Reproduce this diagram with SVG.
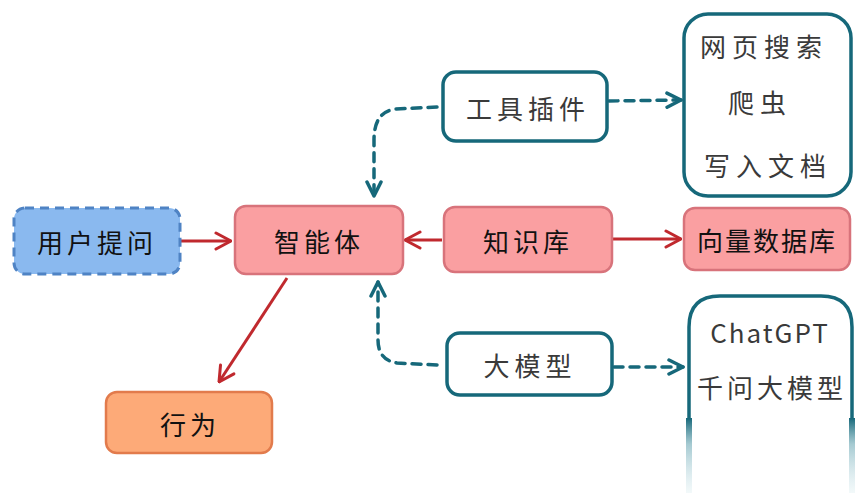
<svg xmlns="http://www.w3.org/2000/svg" width="867" height="493" viewBox="0 0 867 493">
<defs>
<style>
.t{font-family:"Noto Sans CJK SC","Noto Sans",sans-serif;font-size:26px;text-anchor:middle;dominant-baseline:central;}
.dk{fill:#111;}
.gr{fill:#3a3a3a;}
.teal{fill:#fff;stroke:#16687a;stroke-width:3.5;}
.red{fill:#fa9fa1;stroke:#d8737b;stroke-width:2.5;}
.ra{fill:none;stroke:#c0292e;stroke-width:3;}
.da{fill:none;stroke:#16687a;stroke-width:3.5;stroke-dasharray:9 7;stroke-linecap:round;}
</style>
<marker id="mr" viewBox="0 0 18 20" refX="17" refY="10" markerWidth="18" markerHeight="20" markerUnits="userSpaceOnUse" orient="auto">
<path d="M2,2 L17,10 L2,18" fill="none" stroke="#c0292e" stroke-width="3" stroke-linecap="round" stroke-linejoin="round"/>
</marker>
<marker id="mt" viewBox="0 0 18 18" refX="16" refY="9" markerWidth="18" markerHeight="18" markerUnits="userSpaceOnUse" orient="auto">
<path d="M2,2 L16,9 L2,16" fill="none" stroke="#16687a" stroke-width="3.5" stroke-linecap="round" stroke-linejoin="round"/>
</marker>
<linearGradient id="fade" x1="0" y1="418" x2="0" y2="493" gradientUnits="userSpaceOnUse">
<stop offset="0" stop-color="#16687a" stop-opacity="1"/>
<stop offset="0.35" stop-color="#7fb3be" stop-opacity="0.7"/>
<stop offset="1" stop-color="#d5eaee" stop-opacity="0.3"/>
</linearGradient>
</defs>
<rect width="867" height="493" fill="#fff"/>
<g id="connectors">
<line class="ra" x1="181" y1="241" x2="231" y2="241" marker-end="url(#mr)"/>
<line class="ra" x1="442" y1="240" x2="405" y2="240" marker-end="url(#mr)"/>
<line class="ra" x1="613" y1="239" x2="681" y2="239" marker-end="url(#mr)"/>
<line class="ra" x1="287" y1="278" x2="219" y2="382" marker-end="url(#mr)"/>
<path class="da" d="M437,107 L395,109 Q374,112 374,140 L374,196" marker-end="url(#mt)"/>
<path class="da" d="M437,365 L397,363 Q378,360 378,340 L378,282" marker-end="url(#mt)"/>
<line class="da" x1="609" y1="101" x2="681" y2="100" marker-end="url(#mt)"/>
<line class="da" x1="614" y1="367" x2="683" y2="367" marker-end="url(#mt)"/>
</g>
<g id="user">
<rect x="14" y="208" width="166" height="66" rx="11" fill="#8ab9ef" stroke="#4f83c4" stroke-width="3" stroke-dasharray="9 6"/>
<text class="t dk" x="97" y="241" letter-spacing="4">用户提问</text>
</g>
<g id="agent">
<rect class="red" x="235" y="206" width="168" height="68" rx="11"/>
<text class="t dk" x="319" y="240" letter-spacing="4">智能体</text>
</g>
<g id="knowledge">
<rect class="red" x="444" y="207" width="168" height="65" rx="11"/>
<text class="t dk" x="528" y="240" letter-spacing="4">知识库</text>
</g>
<g id="vectordb">
<rect class="red" x="684" y="208" width="166" height="62" rx="11"/>
<text class="t dk" x="767" y="239" letter-spacing="2">向量数据库</text>
</g>
<g id="behavior">
<rect x="106" y="392" width="166" height="61" rx="11" fill="#fdaa78" stroke="#e27b4c" stroke-width="2.5"/>
<text class="t dk" x="190" y="423" letter-spacing="4">行为</text>
</g>
<g id="tools">
<rect class="teal" x="443" y="72" width="164" height="69" rx="13"/>
<text class="t gr" x="528" y="107" letter-spacing="5">工具插件</text>
</g>
<g id="toolset">
<rect class="teal" x="684" y="14" width="167" height="182" rx="24"/>
<text class="t gr" x="764" y="45" letter-spacing="6">网页搜索</text>
<text class="t gr" x="760" y="101" letter-spacing="6">爬虫</text>
<text class="t gr" x="768" y="164" letter-spacing="6">写入文档</text>
</g>
<g id="llm">
<rect class="teal" x="447" y="333" width="165" height="62" rx="13"/>
<text class="t gr" x="530" y="364" letter-spacing="5">大模型</text>
</g>
<g id="llmset">
<path d="M689,420 L689,327 Q689,296 720,296 L821,296 Q852,296 852,327 L852,420" fill="none" stroke="#16687a" stroke-width="3.5"/>
<line x1="689" y1="418" x2="689" y2="493" stroke="url(#fade)" stroke-width="6"/>
<line x1="852" y1="418" x2="852" y2="493" stroke="url(#fade)" stroke-width="6"/>
<text class="t gr" x="770" y="331" letter-spacing="2">ChatGPT</text>
<text class="t gr" x="772" y="386" letter-spacing="4">千问大模型</text>
</g>
</svg>
